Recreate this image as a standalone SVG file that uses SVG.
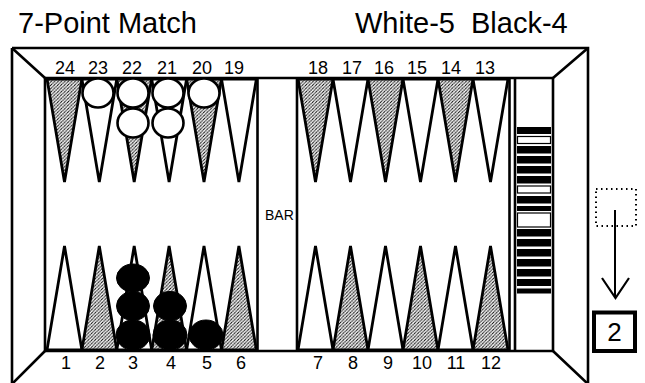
<svg xmlns="http://www.w3.org/2000/svg" width="645" height="383" viewBox="0 0 645 383">
  <style>
    .t { font-family: "Liberation Sans", Arial, Helvetica, sans-serif; fill: #000; }
    .title { font-size: 29px; }
    .num { font-size: 18px; text-anchor: middle; }
    .frame { fill: none; stroke: #000; stroke-width: 2.6; }
    .pt { stroke: #000; stroke-width: 2.8; stroke-linejoin: miter; }
    .plain { fill: #fff; }
    .dark { fill: url(#stipple); }
    .wc { fill: #fff; stroke: #000; stroke-width: 2.6; }
    .bc { fill: #000; stroke: #000; stroke-width: 1; }
    .off-b { fill: #000; }
    .off-w { fill: #fff; stroke: #000; stroke-width: 1.2; }
  </style>
  <defs>
    <pattern id="stipple" width="3.4" height="3.4" patternUnits="userSpaceOnUse">
      <rect width="3.4" height="3.4" fill="#fff"/>
      <path d="M-0.85,0.85 L0.85,-0.85 M0,3.4 L3.4,0 M2.55,4.25 L4.25,2.55" stroke="#000" stroke-width="1.15" stroke-dasharray="1.3 0.5"/>
    </pattern>
  </defs>

  <rect width="645" height="383" fill="#fff"/>

  <!-- headings -->
  <text class="t title" x="18" y="33">7-Point Match</text>
  <text class="t title" x="355" y="33" xml:space="preserve">White-5  Black-4</text>

  <!-- board frame with bevelled corners -->
  <g id="board">
    <path class="frame" d="M12,48 H588 V385 M12,48 V385"/>
    <path class="frame" d="M45,78 H553 M45,351 H553 M45,78 V351"/>
    <path class="frame" d="M12,48 L45,78 M588,48 L553,78 M12,384 L45,351 M588,384 L553,351"/>
    <!-- bar -->
    <path class="frame" stroke-width="3" d="M257.5,78 V351 M297,78 V351"/>
    <text class="t" x="265" y="220" font-size="14">BAR</text>
    <!-- bear-off tray -->
    <path class="frame" stroke-width="3" d="M509.5,78 V351"/>
    <path class="frame" stroke-width="1.5" d="M515,78 V351"/>
    <path class="frame" d="M553,78 V351"/>
  </g>

  <!-- top points 24..13 -->
  <g id="points-top">
    <polygon class="pt dark"  points="47,79 81.9,79 64.5,182"/>
    <polygon class="pt plain" points="81.9,79 116.8,79 99.3,182"/>
    <polygon class="pt dark"  points="116.8,79 151.7,79 134.2,182"/>
    <polygon class="pt plain" points="151.7,79 186.6,79 169.1,182"/>
    <polygon class="pt dark"  points="186.6,79 221.5,79 204,182"/>
    <polygon class="pt plain" points="221.5,79 256.4,79 238.9,182"/>
    <polygon class="pt dark"  points="298,79 333,79 315.5,182"/>
    <polygon class="pt plain" points="333,79 368,79 350.5,182"/>
    <polygon class="pt dark"  points="368,79 403,79 385.5,182"/>
    <polygon class="pt plain" points="403,79 438,79 420.5,182"/>
    <polygon class="pt dark"  points="438,79 473,79 455.5,182"/>
    <polygon class="pt plain" points="473,79 508,79 490.5,182"/>
  </g>

  <!-- bottom points 1..12 -->
  <g id="points-bottom">
    <polygon class="pt plain" points="47,350 81.9,350 64.5,246"/>
    <polygon class="pt dark"  points="81.9,350 116.8,350 99.3,246"/>
    <polygon class="pt plain" points="116.8,350 151.7,350 134.2,246"/>
    <polygon class="pt dark"  points="151.7,350 186.6,350 169.1,246"/>
    <polygon class="pt plain" points="186.6,350 221.5,350 204,246"/>
    <polygon class="pt dark"  points="221.5,350 256.4,350 238.9,246"/>
    <polygon class="pt plain" points="298,350 333,350 315.5,246"/>
    <polygon class="pt dark"  points="333,350 368,350 350.5,246"/>
    <polygon class="pt plain" points="368,350 403,350 385.5,246"/>
    <polygon class="pt dark"  points="403,350 438,350 420.5,246"/>
    <polygon class="pt plain" points="438,350 473,350 455.5,246"/>
    <polygon class="pt dark"  points="473,350 508,350 490.5,246"/>
  </g>

  <!-- point numbers -->
  <g id="labels-top" class="t num">
    <text x="65" y="74">24</text>
    <text x="98" y="74">23</text>
    <text x="132" y="74">22</text>
    <text x="167" y="74">21</text>
    <text x="202" y="74">20</text>
    <text x="234" y="74">19</text>
    <text x="318" y="74">18</text>
    <text x="352" y="74">17</text>
    <text x="384" y="74">16</text>
    <text x="417" y="74">15</text>
    <text x="451" y="74">14</text>
    <text x="485" y="74">13</text>
  </g>
  <g id="labels-bottom" class="t num">
    <text x="66" y="369">1</text>
    <text x="100" y="369">2</text>
    <text x="133" y="369">3</text>
    <text x="171" y="369">4</text>
    <text x="207" y="369">5</text>
    <text x="241" y="369">6</text>
    <text x="318" y="369">7</text>
    <text x="353" y="369">8</text>
    <text x="388" y="369">9</text>
    <text x="422" y="369">10</text>
    <text x="456" y="369">11</text>
    <text x="491" y="369">12</text>
  </g>

  <!-- white checkers -->
  <g id="white-checkers">
    <ellipse class="wc" cx="98" cy="93" rx="15.5" ry="14.5"/>
    <ellipse class="wc" cx="133" cy="93" rx="15.5" ry="14.5"/>
    <ellipse class="wc" cx="168" cy="93" rx="15.5" ry="14.5"/>
    <ellipse class="wc" cx="204" cy="93" rx="15.5" ry="14.5"/>
    <ellipse class="wc" cx="133" cy="123" rx="15.5" ry="14.5"/>
    <ellipse class="wc" cx="168" cy="123" rx="15.5" ry="14.5"/>
  </g>

  <!-- black checkers -->
  <g id="black-checkers">
    <ellipse class="bc" cx="133" cy="335" rx="17" ry="15"/>
    <ellipse class="bc" cx="133" cy="306" rx="16.5" ry="14.5"/>
    <ellipse class="bc" cx="133" cy="278" rx="16.5" ry="14"/>
    <ellipse class="bc" cx="170" cy="335" rx="17" ry="15"/>
    <ellipse class="bc" cx="170" cy="306" rx="16.5" ry="14.5"/>
    <ellipse class="bc" cx="206" cy="335" rx="17" ry="15"/>
  </g>

  <!-- borne-off checkers stacked in the tray -->
  <g id="tray-stack">
    <rect class="off-b" x="517" y="127" width="34" height="7"/>
    <rect class="off-w" x="517.5" y="136.5" width="33" height="7"/>
    <rect class="off-b" x="517" y="146" width="34" height="7.5"/>
    <rect class="off-b" x="517" y="156" width="34" height="7.5"/>
    <rect class="off-b" x="517" y="166" width="34" height="7.5"/>
    <rect class="off-b" x="517" y="176" width="34" height="7.5"/>
    <rect class="off-w" x="517.5" y="186" width="33" height="7"/>
    <rect class="off-b" x="517" y="196" width="34" height="7.5"/>
    <rect class="off-b" x="517" y="206" width="34" height="5"/>
    <rect class="off-w" x="517.5" y="213" width="33" height="14"/>
    <rect class="off-b" x="517" y="229" width="34" height="7.5"/>
    <rect class="off-b" x="517" y="239" width="34" height="7.5"/>
    <rect class="off-b" x="517" y="249" width="34" height="7.5"/>
    <rect class="off-b" x="517" y="259" width="34" height="7.5"/>
    <rect class="off-b" x="517" y="269" width="34" height="7.5"/>
    <rect class="off-b" x="517" y="279" width="34" height="7"/>
    <rect class="off-b" x="517" y="288.5" width="34" height="5"/>
  </g>

  <!-- doubling cube and its move -->
  <g id="cube-origin">
    <rect x="596" y="189" width="40" height="37" fill="none" stroke="#000" stroke-width="2" stroke-dasharray="1.5 3.5"/>
  </g>
  <g id="connectors">
    <path d="M615,210 V298" fill="none" stroke="#000" stroke-width="2"/>
    <path d="M602,278 L615.5,298 L629,278" fill="none" stroke="#000" stroke-width="2.2"/>
  </g>
  <g id="cube">
    <rect x="594" y="312.5" width="41" height="38.5" fill="#fff" stroke="#000" stroke-width="4"/>
    <text class="t" x="614.5" y="341" font-size="26" text-anchor="middle">2</text>
  </g>
</svg>
